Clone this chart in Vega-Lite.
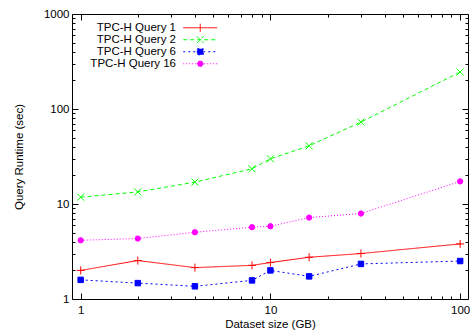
{
  "$schema": "https://vega.github.io/schema/vega-lite/v6.json",
  "width": 396,
  "height": 285,
  "autosize": {"type": "none"},
  "padding": {"left": 72, "top": 14, "right": 2, "bottom": 37},
  "config": {
    "font": "Liberation Sans",
    "view": {"stroke": "#000000", "strokeWidth": 1},
    "axis": {"domain": false, "grid": false, "tickColor": "#000000", "labelColor": "#000000", "titleColor": "#000000", "labelFontSize": 11.5, "titleFontSize": 11.5, "titleFontWeight": "normal", "tickWidth": 1},
    "legend": {
      "orient": "none",
      "legendX": 122.5,
      "legendY": 8,
      "title": null,
      "labelAlign": "right",
      "labelOffset": -30,
      "labelFontSize": 11.5,
      "labelColor": "#000000",
      "symbolType": "M-3.4,0H3.4",
      "symbolSize": 100,
      "symbolStrokeWidth": 1,
      "rowPadding": -1.7
    }
  },
  "data": {
    "values": [
      {"size": 1, "series": "TPC-H Query 1", "time": 2.0},
      {"size": 2, "series": "TPC-H Query 1", "time": 2.54},
      {"size": 4, "series": "TPC-H Query 1", "time": 2.14},
      {"size": 8, "series": "TPC-H Query 1", "time": 2.26},
      {"size": 10, "series": "TPC-H Query 1", "time": 2.42},
      {"size": 16, "series": "TPC-H Query 1", "time": 2.75},
      {"size": 30, "series": "TPC-H Query 1", "time": 3.01},
      {"size": 100, "series": "TPC-H Query 1", "time": 3.8},
      {"size": 1, "series": "TPC-H Query 2", "time": 11.8},
      {"size": 2, "series": "TPC-H Query 2", "time": 13.4},
      {"size": 4, "series": "TPC-H Query 2", "time": 17.0},
      {"size": 8, "series": "TPC-H Query 2", "time": 23.5},
      {"size": 10, "series": "TPC-H Query 2", "time": 29.9},
      {"size": 16, "series": "TPC-H Query 2", "time": 41},
      {"size": 30, "series": "TPC-H Query 2", "time": 72.8},
      {"size": 100, "series": "TPC-H Query 2", "time": 245},
      {"size": 1, "series": "TPC-H Query 6", "time": 1.59},
      {"size": 2, "series": "TPC-H Query 6", "time": 1.47},
      {"size": 4, "series": "TPC-H Query 6", "time": 1.36},
      {"size": 8, "series": "TPC-H Query 6", "time": 1.57},
      {"size": 10, "series": "TPC-H Query 6", "time": 2.0},
      {"size": 16, "series": "TPC-H Query 6", "time": 1.73},
      {"size": 30, "series": "TPC-H Query 6", "time": 2.34},
      {"size": 100, "series": "TPC-H Query 6", "time": 2.51},
      {"size": 1, "series": "TPC-H Query 16", "time": 4.15},
      {"size": 2, "series": "TPC-H Query 16", "time": 4.33},
      {"size": 4, "series": "TPC-H Query 16", "time": 5.04},
      {"size": 8, "series": "TPC-H Query 16", "time": 5.7},
      {"size": 10, "series": "TPC-H Query 16", "time": 5.83},
      {"size": 16, "series": "TPC-H Query 16", "time": 7.2},
      {"size": 30, "series": "TPC-H Query 16", "time": 7.94},
      {"size": 100, "series": "TPC-H Query 16", "time": 17.3}
    ]
  },
  "layer": [
    {
      "mark": {"type": "line", "strokeWidth": 1, "clip": true},
      "encoding": {
        "x": {"field": "size", "type": "quantitative", "scale": {"type": "log", "domain": [0.9, 110], "nice": false},
              "axis": {"orient": "bottom", "values": [1, 10, 100], "format": "d", "tickSize": -6, "labelPadding": 11, "title": "Dataset size (GB)", "titlePadding": 3}},
        "y": {"field": "time", "type": "quantitative", "scale": {"type": "log", "domain": [1, 1000], "nice": false},
              "axis": {"orient": "left", "values": [1, 10, 100, 1000], "format": "d", "tickSize": -6, "labelPadding": 9, "title": "Query Runtime (sec)", "titlePadding": 19}},
        "color": {"field": "series", "type": "nominal",
                  "scale": {"domain": ["TPC-H Query 1", "TPC-H Query 2", "TPC-H Query 6", "TPC-H Query 16"], "range": ["#ff0000", "#00ff00", "#0000ff", "#ff00ff"]},
                  "legend": {"symbolType": "M-3.4,0H3.4", "symbolSize": 100, "encode": {"symbols": {"update": {
                    "shape": {"signal": "datum.value === 'TPC-H Query 1' ? 'M-3.4,0H3.4M0,-0.8V0.8' : datum.value === 'TPC-H Query 2' ? 'M-3.4,0H3.4M-0.68,-0.68L0.68,0.68M-0.68,0.68L0.68,-0.68' : datum.value === 'TPC-H Query 6' ? 'M-3.4,0H3.4M-0.6,-0.6H0.6V0.6H-0.6Z' : 'M-3.4,0H3.4M0.6,0A0.6,0.6,0,1,1,-0.6,0A0.6,0.6,0,1,1,0.6,0Z'"},
                    "fill": {"signal": "datum.value === 'TPC-H Query 6' ? '#0000ff' : datum.value === 'TPC-H Query 16' ? '#ff00ff' : 'transparent'"},
                    "size": {"value": 100}
                  }}}}},
        "strokeDash": {"field": "series", "type": "nominal",
                       "scale": {"domain": ["TPC-H Query 1", "TPC-H Query 2", "TPC-H Query 6", "TPC-H Query 16"], "range": [[1, 0], [4, 3], [2, 3], [1, 2]]}}
      }
    },
    {
      "mark": {"type": "point", "filled": false, "strokeWidth": 1, "opacity": 1, "clip": true},
      "encoding": {
        "x": {"field": "size", "type": "quantitative",
              "axis": {"orient": "bottom", "values": [2, 3, 4, 5, 6, 7, 8, 9, 20, 30, 40, 50, 60, 70, 80, 90], "labels": false, "tickSize": -3, "title": null}},
        "y": {"field": "time", "type": "quantitative",
              "axis": {"orient": "left", "values": [2, 3, 4, 5, 6, 7, 8, 9, 20, 30, 40, 50, 60, 70, 80, 90, 200, 300, 400, 500, 600, 700, 800, 900], "labels": false, "tickSize": -3, "title": null}},
        "color": {"field": "series", "type": "nominal"},
        "shape": {"condition": [
                    {"test": "datum.series === 'TPC-H Query 1'", "value": "M-1,0H1M0,-1V1"},
                    {"test": "datum.series === 'TPC-H Query 2'", "value": "M-1,-1L1,1M-1,1L1,-1"},
                    {"test": "datum.series === 'TPC-H Query 6'", "value": "square"}
                  ], "value": "circle"},
        "fill": {"condition": [
                    {"test": "datum.series === 'TPC-H Query 6'", "value": "#0000ff"},
                    {"test": "datum.series === 'TPC-H Query 16'", "value": "#ff00ff"}
                  ], "value": "transparent"},
        "size": {"condition": [
                    {"test": "datum.series === 'TPC-H Query 1'", "value": 64},
                    {"test": "datum.series === 'TPC-H Query 2'", "value": 49},
                    {"test": "datum.series === 'TPC-H Query 6'", "value": 30}
                  ], "value": 28}
      }
    },
    {
      "mark": {"type": "line", "opacity": 0},
      "encoding": {
        "x": {"field": "size", "type": "quantitative",
              "axis": {"orient": "top", "values": [1, 10, 100], "labels": false, "tickSize": -6, "title": null}},
        "y": {"field": "time", "type": "quantitative",
              "axis": {"orient": "right", "values": [1, 10, 100, 1000], "labels": false, "tickSize": -6, "title": null}},
        "detail": {"field": "series", "type": "nominal"}
      }
    },
    {
      "mark": {"type": "line", "opacity": 0},
      "encoding": {
        "x": {"field": "size", "type": "quantitative",
              "axis": {"orient": "top", "values": [2, 3, 4, 5, 6, 7, 8, 9, 20, 30, 40, 50, 60, 70, 80, 90], "labels": false, "tickSize": -3, "title": null}},
        "y": {"field": "time", "type": "quantitative",
              "axis": {"orient": "right", "values": [2, 3, 4, 5, 6, 7, 8, 9, 20, 30, 40, 50, 60, 70, 80, 90, 200, 300, 400, 500, 600, 700, 800, 900], "labels": false, "tickSize": -3, "title": null}},
        "detail": {"field": "series", "type": "nominal"}
      }
    }
  ],
  "resolve": {"axis": {"x": "independent", "y": "independent"}}
}
